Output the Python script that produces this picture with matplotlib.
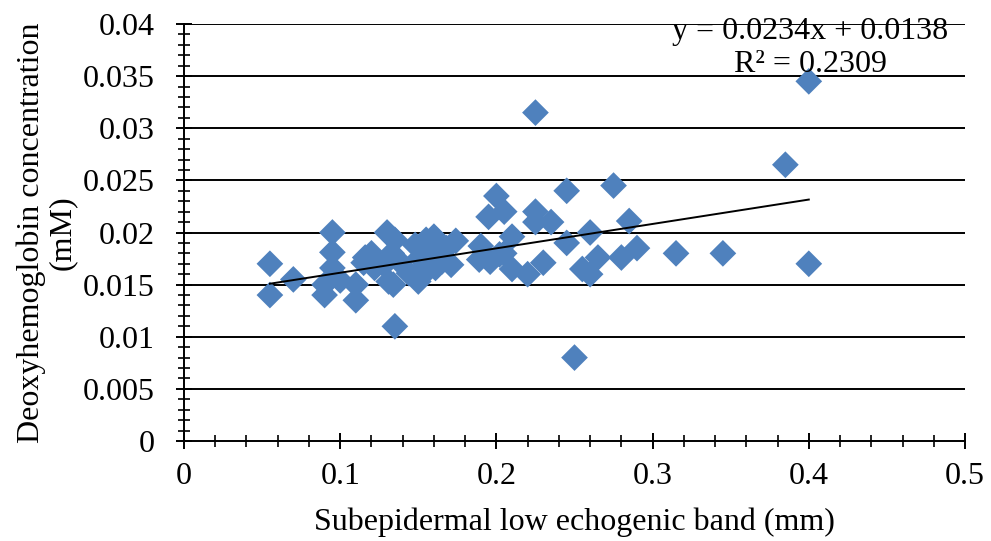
import numpy as np
import matplotlib
matplotlib.use("Agg")
import matplotlib.pyplot as plt
from matplotlib.ticker import MultipleLocator, FuncFormatter

band_mm = [0.055, 0.055, 0.070, 0.090, 0.090, 0.095, 0.095, 0.095, 0.100, 0.110,
           0.110, 0.115, 0.116, 0.120, 0.121, 0.122, 0.128, 0.130, 0.131, 0.133,
           0.134, 0.135, 0.135, 0.138, 0.144, 0.148, 0.150, 0.151, 0.152, 0.154,
           0.155, 0.155, 0.158, 0.160, 0.161, 0.165, 0.168, 0.171, 0.174, 0.189,
           0.190, 0.195, 0.196, 0.200, 0.202, 0.205, 0.205, 0.210, 0.210, 0.220,
           0.225, 0.225, 0.225, 0.230, 0.235, 0.245, 0.245, 0.250, 0.255, 0.260,
           0.260, 0.265, 0.275, 0.280, 0.285, 0.290, 0.315, 0.345, 0.385, 0.400,
           0.400]
deoxy_mM = [0.0170, 0.0140, 0.0155, 0.0150, 0.0140, 0.0200, 0.0181, 0.0166, 0.0154, 0.0150,
            0.0135, 0.0171, 0.0176, 0.0180, 0.0174, 0.0166, 0.0169, 0.0200, 0.0153, 0.0180,
            0.0150, 0.0193, 0.0110, 0.0172, 0.0161, 0.0188, 0.0153, 0.0176, 0.0158, 0.0185,
            0.0193, 0.0169, 0.0180, 0.0196, 0.0166, 0.0172, 0.0185, 0.0169, 0.0192, 0.0174,
            0.0187, 0.0215, 0.0172, 0.0235, 0.0179, 0.0220, 0.0180, 0.0196, 0.0165, 0.0160,
            0.0315, 0.0220, 0.0210, 0.0171, 0.0210, 0.0240, 0.0190, 0.0080, 0.0165, 0.0200,
            0.0160, 0.0176, 0.0245, 0.0176, 0.0211, 0.0185, 0.0180, 0.0180, 0.0265, 0.0345,
            0.0170]

slope = 0.0234
intercept = 0.0138
r2 = 0.2309

x_ticks = [0, 0.1, 0.2, 0.3, 0.4, 0.5]
y_ticks = [0, 0.005, 0.01, 0.015, 0.02, 0.025, 0.03, 0.035, 0.04]

serif = ["Liberation Serif", "DejaVu Serif"]
plt.rcParams['font.family'] = serif
fs = 23

fig = plt.figure(figsize=(9.91, 5.41), dpi=100)
ax = fig.add_axes([184/991, 100/541, (965-184)/991, (441-24)/541])

ax.set_xlim(0, 0.5)
ax.set_ylim(0, 0.04)
ax.set_xticks(x_ticks)
ax.set_yticks(y_ticks)
ax.xaxis.set_minor_locator(MultipleLocator(0.02))
ax.yaxis.set_minor_locator(MultipleLocator(0.001))
ax.xaxis.set_major_formatter(FuncFormatter(lambda v, p: f"{v:g}"))
ax.yaxis.set_major_formatter(FuncFormatter(lambda v, p: f"{v:g}"))

for yt in y_ticks[1:]:
    ax.axhline(yt, color="black", lw=1.4, zorder=1)

ax.scatter(band_mm, deoxy_mM, marker="D", s=185, color="#4F81BD",
           edgecolors="none", zorder=3)

xs = np.array([min(band_mm), max(band_mm)])
ax.plot(xs, slope * xs + intercept, color="black", lw=1.4, zorder=4)

for s in ["top", "right"]:
    ax.spines[s].set_visible(False)
for s in ["left", "bottom"]:
    ax.spines[s].set_linewidth(1.4)
    ax.spines[s].set_color("black")

ax.tick_params(axis="both", which="major", direction="inout", length=12,
               width=1.4, labelsize=fs, color="black")
ax.tick_params(axis="both", which="minor", direction="inout", length=9,
               width=1.2, color="black")
ax.tick_params(axis="x", which="major", pad=9)
ax.tick_params(axis="y", which="major", pad=15)

ax.set_xlabel("Subepidermal low echogenic band (mm)", fontsize=fs, labelpad=12)
ax.set_ylabel("Deoxyhemoglobin concentration\n(mM)", fontsize=fs,
              linespacing=1.1, labelpad=4)

ax.text(0.401, 0.0393, f"y = {slope}x + {intercept}", fontsize=fs,
        ha="center", va="center", zorder=5)
ax.text(0.401, 0.0361, f"R² = {r2}", fontsize=fs, ha="center", va="center",
        zorder=5)

fig.savefig("out.png", dpi=100)
